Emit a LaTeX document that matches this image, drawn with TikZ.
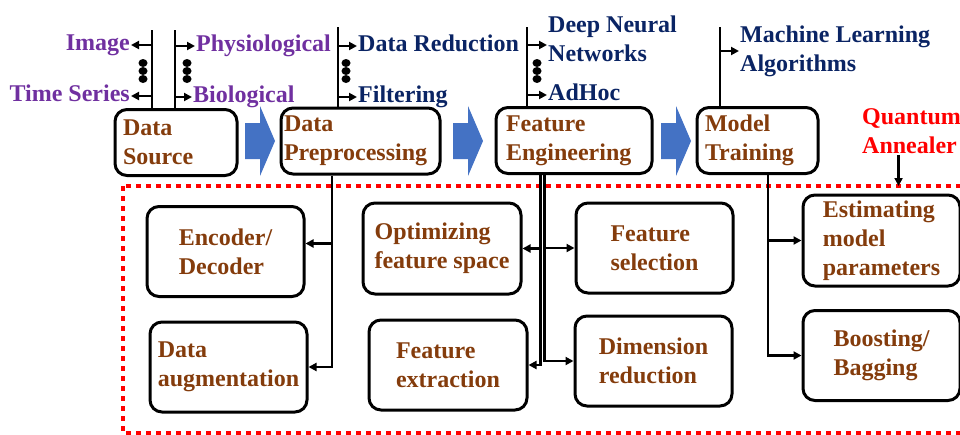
\documentclass[tikz,border=0pt]{standalone}
\usepackage{fontspec}
\setmainfont{Liberation Serif}
\usetikzlibrary{arrows.meta}
\definecolor{lbpurple}{RGB}{112,48,160}
\definecolor{lbnavy}{RGB}{10,36,100}
\definecolor{lbbrown}{RGB}{132,60,12}
\definecolor{lbblue}{RGB}{68,114,196}
\tikzset{
	bigfont/.style={font=\bfseries\fontsize{24}{29}\selectfont},
	stage/.style={bigfont, draw, line width=3pt, rounded corners=12pt, align=left, text=lbbrown, minimum height=66pt, inner ysep=0pt},
	task/.style={bigfont, draw, line width=3pt, rounded corners=12pt, align=left, text=lbbrown, minimum width=157pt, minimum height=90pt},
	lbl/.style={bigfont, inner sep=1pt, text height=16pt, text depth=5pt},
	lbls/.style={bigfont, inner sep=1pt, align=left},
	conn/.style={line width=2.6pt},
	tip/.style={conn, -{Triangle[length=8pt,width=8pt]}},
	frame/.style={red, line width=4pt, dash pattern=on 5pt off 5pt}
}
\begin{document}
\begin{tikzpicture}[x=1pt,y=-1pt]
		\useasboundingbox (0,0) rectangle (960,434);
		%pipeline stages
		\node[stage, text width=106pt, inner xsep=8pt] (src) at (176,142.5) {Data\\Source};
		\node[stage, text width=153pt, inner xsep=3pt] (pre) at (360.5,141) {Data\\Preprocessing};
		\node[stage, text width=136pt, inner xsep=10pt] (feng) at (574,140.5) {Feature\\Engineering};
		\node[stage, text width=105pt, inner xsep=8pt] (mtrain) at (757.5,140.5) {Model\\Training};
		
		\foreach \x in {245, 453, 661}{
			\fill[lbblue] (\x,123) -- ++(15,0) -- ++(0,-17) -- ++(15,35) -- ++(-15,35) -- ++(0,-17) -- ++(-15,0) -- cycle;
		}
		
		%inputs and methods above the stages
		\coordinate (srcL) at (152,30);
		\coordinate (srcR) at (175,30);
		\coordinate (preT) at (338,27);
		\coordinate (fengT) at (527,27);
		\coordinate (mtT) at (720,27);
		\draw[conn] (srcL) -- (srcL |- src.north);
		\draw[conn] (srcR) -- (srcR |- src.north);
		\draw[conn] (preT) -- (preT |- pre.north);
		\draw[conn] (fengT) -- (fengT |- feng.north);
		\draw[conn] (mtT) -- (mtT |- mtrain.north);
		
		\node[lbl, text=lbpurple, anchor=east] (img) at (131,45) {Image};
		\node[lbl, text=lbpurple, anchor=east] (ts) at (131,96) {Time Series};
		\node[lbl, text=lbpurple, anchor=west] (phys) at (195,46) {Physiological};
		\node[lbl, text=lbpurple, anchor=west] (bio) at (192,97) {Biological};
		\node[lbl, text=lbnavy, anchor=west] (dred) at (357,46) {Data Reduction};
		\node[lbl, text=lbnavy, anchor=west] (filt) at (357,97) {Filtering};
		\node[lbls, text=lbnavy, anchor=west] (dnn) at (547,39) {Deep Neural\\Networks};
		\node[lbl, text=lbnavy, anchor=west] (adhoc) at (547,95) {AdHoc};
		\node[lbls, text=lbnavy, anchor=west] (mla) at (739,51) {Machine Learning\\Algorithms};
		\node[lbls, text=red, anchor=west] (qa) at (861,131) {Quantum\\Annealer};
		
		\draw[tip] (srcL |- img.east) -- (img.east);
		\draw[tip] (srcL |- ts.east) -- (ts.east);
		\draw[tip] (srcR |- phys.west) -- (phys.west);
		\draw[tip] (srcR |- bio.west) -- (bio.west);
		\draw[tip] (preT |- dred.west) -- (dred.west);
		\draw[tip] (preT |- filt.west) -- (filt.west);
		\coordinate (dnnIn) at ([yshift=-6pt]dnn.west);
		\draw[tip] (fengT |- dnnIn) -- (dnnIn);
		\draw[tip] (fengT |- adhoc.west) -- (adhoc.west);
		\draw[tip] (mtT |- mla.west) -- (mla.west);
		
		\foreach \x in {143, 187, 346, 537}{
			\foreach \y in {63, 71, 79}{
				\fill (\x,\y) ellipse [x radius=4.5pt, y radius=4pt];
			}
		}
		
		%quantum part
		\draw[frame] (123,186) rectangle (990,433);
		\coordinate (frmTL) at (123,186);
		\coordinate (qaOut) at ([xshift=-13pt]qa.south);
		\draw[tip] (qaOut) -- (qaOut |- frmTL);
		
		\node[task] (enc) at (225.5,251.5) {Encoder/\\Decoder};
		\node[task] (aug) at (228.5,367) {Data\\augmentation};
		\node[task, minimum width=158pt, minimum height=91pt] (opt) at (442,248.5) {Optimizing\\feature space};
		\node[task, minimum width=158pt] (fext) at (448,365) {Feature\\extraction};
		\node[task] (fsel) at (654.5,248) {Feature\\selection};
		\node[task] (dimr) at (653.5,361) {Dimension\\reduction};
		\node[task, minimum height=91pt] (est) at (881.5,240.5) {Estimating\\model\\parameters};
		\node[task] (boost) at (881.5,355.5) {Boosting/\\Bagging};
		
		%branches below the stages
		\coordinate (preB) at ([xshift=-28.5pt]pre.south);
		\coordinate (encIn) at ([yshift=8pt]enc.east);
		\draw[tip] (preB) |- (aug.east);
		\draw[tip] (preB |- encIn) -- (encIn);
		
		\coordinate (fengL) at ([xshift=-33.5pt]feng.south);
		\coordinate (fengR) at ([xshift=-29.5pt]feng.south);
		\draw[tip] (fengL) |- (fext.east);
		\draw[tip] (fengR) |- (dimr.west);
		\draw[tip] (fengL |- opt.east) -- (opt.east);
		\draw[tip] (fengR |- fsel.west) -- (fsel.west);
		
		\coordinate (mtB) at ([xshift=10.5pt]mtrain.south);
		\draw[tip] (mtB) |- (boost.west);
		\draw[tip] (mtB |- est.west) -- (est.west);
\end{tikzpicture}
\end{document}
